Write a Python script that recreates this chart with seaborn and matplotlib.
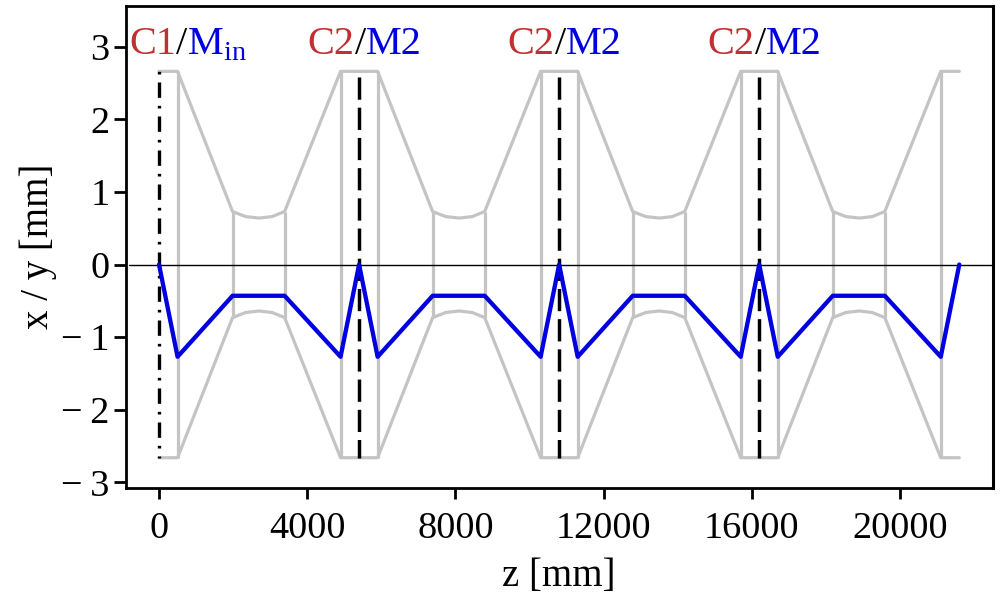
import matplotlib
matplotlib.use("Agg")
import matplotlib.pyplot as plt
import pandas as pd
import seaborn as sns

# envelope points along the beamline
z_env = [0, 500, 1985, 2340, 2700, 3050, 3390, 4900, 5400, 5900, 7385, 7740, 8100, 8450, 8790,
         10300, 10800, 11300, 12785, 13140, 13500, 13850, 14190, 15700, 16200, 16700, 18185,
         18540, 18900, 19250, 19590, 21100, 21600]
env_upper = [2.66, 2.66, 0.73, 0.66, 0.64, 0.66, 0.73, 2.66, 2.66, 2.66, 0.73, 0.66, 0.64, 0.66, 0.73,
             2.66, 2.66, 2.66, 0.73, 0.66, 0.64, 0.66, 0.73, 2.66, 2.66, 2.66, 0.73,
             0.66, 0.64, 0.66, 0.73, 2.66, 2.66]
env_lower = [-v for v in env_upper]

# orbit
z_orbit = [0, 500, 1985, 3390, 4900, 5400, 5900, 7385, 8790, 10300, 10800, 11300, 12785, 14190,
           15700, 16200, 16700, 18185, 19590, 21100, 21600]
x_orbit = [0, -1.27, -0.43, -0.43, -1.27, 0, -1.27, -0.43, -0.43, -1.27, 0, -1.27, -0.43, -0.43,
           -1.27, 0, -1.27, -0.43, -0.43, -1.27, 0]

# element edges, drawn as vertical grey lines
z_edges = [500, 1985, 3390, 4900, 5900, 7385, 8790, 10300, 11300, 12785, 14190, 15700, 16700,
           18185, 19590, 21100]
edge_height = [2.66, 0.73, 0.73, 2.66, 2.66, 0.73, 0.73, 2.66, 2.66, 0.73, 0.73, 2.66, 2.66,
               0.73, 0.73, 2.66]

z_mirrors = [5400, 10800, 16200]
label_z = [-800, 4010, 9410, 14810]
cavity_labels = ["C1", "C2", "C2", "C2"]
mirror_labels = ["M$_{\\mathrm{in}}$", "M2", "M2", "M2"]

x_ticks = [0, 4000, 8000, 12000, 16000, 20000]
y_ticks = [-3, -2, -1, 0, 1, 2, 3]

GREY = "#c4c4c4"
RED = "#c03030"
BLUE = "#0000e0"

sns.set_theme(style="ticks")
plt.rcParams["font.family"] = ["Liberation Serif", "DejaVu Serif"]
plt.rcParams["mathtext.fontset"] = "custom"
plt.rcParams["mathtext.rm"] = "Liberation Serif"

env = pd.DataFrame({"z": z_env, "upper": env_upper, "lower": env_lower})
orbit = pd.DataFrame({"z": z_orbit, "x": x_orbit})

fig = plt.figure(figsize=(10, 6), dpi=100)
ax = fig.add_axes([0.1255, 0.1875, 0.8675, 0.8025])

ax.vlines(z_edges, [-h for h in edge_height], edge_height, color=GREY, lw=2.3, zorder=1)
sns.lineplot(data=env, x="z", y="upper", color=GREY, lw=2.3, ax=ax, sort=False, estimator=None, zorder=1)
sns.lineplot(data=env, x="z", y="lower", color=GREY, lw=2.3, ax=ax, sort=False, estimator=None, zorder=1)

ax.plot([0, 0], [2.66, -2.66], color="black", lw=2.4, linestyle=(6.9, (4.6, 2.4, 0.8, 2.4)), zorder=2)
for z in z_mirrors:
    ax.plot([z, z], [2.58, -2.66], color="black", lw=2.5, linestyle=(0, (6.4, 2.3)), zorder=2)

ax.axhline(0, color="black", lw=1, xmin=0.004, zorder=2)
sns.lineplot(data=orbit, x="z", y="x", color=BLUE, lw=3.1, ax=ax, sort=False, estimator=None, zorder=3)

for z, c_label, m_label in zip(label_z, cavity_labels, mirror_labels):
    c_text = ax.annotate(c_label, xy=(z, 2.9), color=RED, fontsize=29, va="baseline", ha="left")
    slash = ax.annotate("/", xy=(1, 0), xycoords=c_text, color="black", fontsize=29, va="bottom", ha="left")
    ax.annotate(m_label, xy=(1, 0), xycoords=slash, color=BLUE, fontsize=29, va="bottom", ha="left")

ax.set_xlim(-905, 22510)
ax.set_ylim(-3.07, 3.56)
ax.set_xticks(x_ticks)
ax.set_yticks(y_ticks)
ax.set_yticklabels(["\u2212\u2009" + str(-t) if t < 0 else str(t) for t in y_ticks])
ax.tick_params(axis="x", labelsize=27.5, width=2, length=8, color="black", labelcolor="black", pad=9)
ax.tick_params(axis="y", labelsize=27.5, width=2, length=8.5, color="black", labelcolor="black", pad=3)
ax.set_xlabel("z [mm]", fontsize=28, color="black", labelpad=9)
ax.set_ylabel("x / y [mm]", fontsize=28, color="black", labelpad=3)

for side in ["top", "right", "bottom", "left"]:
    ax.spines[side].set_color("black")
    ax.spines[side].set_visible(True)
    ax.spines[side].set_linewidth(2)
ax.spines["right"].set_linewidth(2.2)

fig.savefig("out.png", dpi=100)
plt.close(fig)
